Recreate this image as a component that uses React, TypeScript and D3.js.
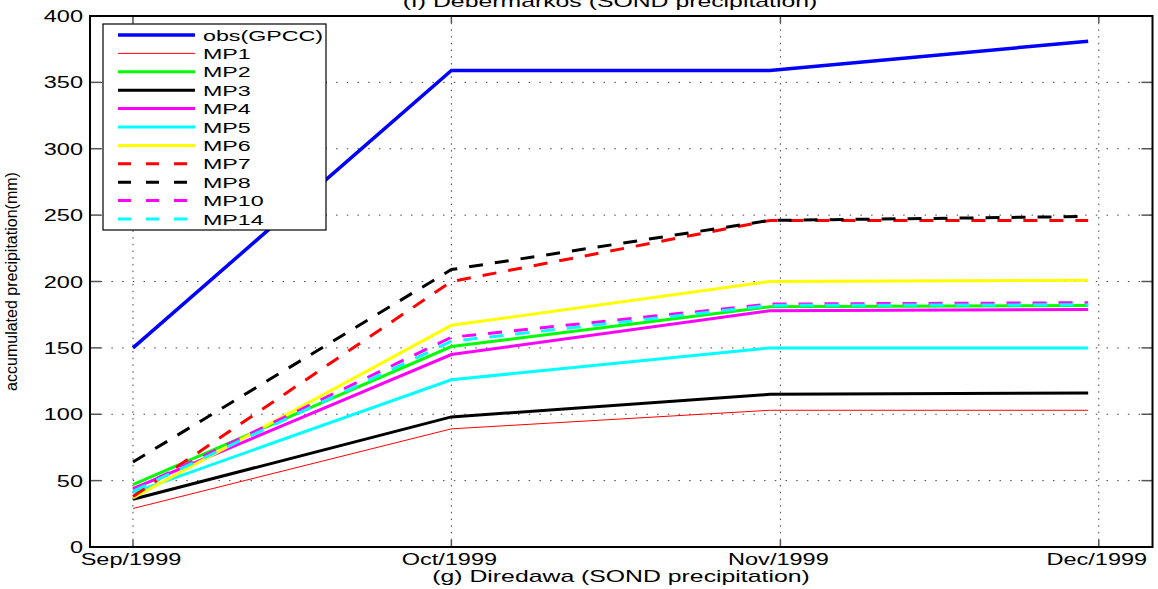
import React, { useEffect, useRef } from "react";
import * as d3 from "d3";

// months on the x axis (ticks at the first of each month)
const monthLabels = ["Sep/1999", "Oct/1999", "Nov/1999", "Dec/1999"];
const monthTickDates = ["1999-09-01", "1999-10-01", "1999-11-01", "1999-12-01"];
// dates where the accumulated values are sampled
const sampleDates = ["1999-09-01", "1999-10-01", "1999-10-31", "1999-11-30"];

const yTicks = [0, 50, 100, 150, 200, 250, 300, 350, 400];

const obsGPCC = [150, 359, 359, 381];
const mp1 = [29, 89, 103, 103];
const mp2 = [47, 151, 181, 182];
const mp3 = [36, 98, 115, 116];
const mp4 = [44, 145, 178, 179];
const mp5 = [41, 126, 150, 150];
const mp6 = [37, 167, 200, 201];
const mp7 = [38, 200, 246, 246];
const mp8 = [64, 209, 246, 249];
const mp10 = [43, 158, 183, 184];
const mp14 = [42, 155, 182, 182.5];

const seriesNames = ["obs(GPCC)", "MP1", "MP2", "MP3", "MP4", "MP5", "MP6", "MP7", "MP8", "MP10", "MP14"];
const seriesValues = [obsGPCC, mp1, mp2, mp3, mp4, mp5, mp6, mp7, mp8, mp10, mp14];
const seriesColors = ["#0000ff", "#ff0000", "#00ff00", "#000000", "#ff00ff", "#00ffff", "#ffff00", "#ff0000", "#000000", "#ff00ff", "#00ffff"];
const seriesDashed = [false, false, false, false, false, false, false, true, true, true, true];
const seriesWidths = [3.5, 1, 3, 3, 3, 3, 3, 3, 3, 3, 3];

const FONT = "'Liberation Sans', Arial, Helvetica, sans-serif";

export default function App() {
  const svgRef = useRef<SVGSVGElement>(null);

  useEffect(() => {
    const svg = d3.select(svgRef.current);
    svg.selectAll("*").remove();

    const left = 90, right = 1152.5, top = 16, bottom = 547;
    const day = 24 * 3600 * 1000;
    const t0 = new Date(monthTickDates[0] + "T00:00:00Z").getTime();
    const t1 = new Date(monthTickDates[3] + "T00:00:00Z").getTime();

    const x = d3
      .scaleUtc()
      .domain([new Date(t0 - 4.05 * day), new Date(t1 + 5.06 * day)])
      .range([left, right]);
    const y = d3.scaleLinear().domain([0, 400]).range([bottom, top]);

    const tickDates = monthTickDates.map((d) => new Date(d + "T00:00:00Z"));
    const dates = sampleDates.map((d) => new Date(d + "T00:00:00Z"));

    // text is drawn wide, like the stretched original figure
    const stretched = (g, tx, ty, txt, size, anchor, sx = 1.55) =>
      g
        .append("text")
        .attr("transform", `translate(${tx},${ty}) scale(${sx},1)`)
        .attr("text-anchor", anchor)
        .style("font-family", FONT)
        .style("font-size", size + "px")
        .attr("fill", "#000")
        .text(txt);

    // grid
    const grid = svg.append("g");
    yTicks.forEach((v) => {
      grid
        .append("line")
        .attr("x1", left)
        .attr("x2", right)
        .attr("y1", y(v))
        .attr("y2", y(v))
        .attr("stroke", "#444")
        .attr("stroke-width", 1)
        .attr("stroke-dasharray", "1.5,9.2");
    });
    tickDates.forEach((d) => {
      grid
        .append("line")
        .attr("x1", x(d))
        .attr("x2", x(d))
        .attr("y1", top)
        .attr("y2", bottom)
        .attr("stroke", "#444")
        .attr("stroke-width", 1)
        .attr("stroke-dasharray", "1.5,5.2");
    });

    // ticks
    const ticks = svg.append("g").attr("stroke", "#555").attr("stroke-width", 1.5);
    yTicks.forEach((v) => {
      ticks.append("line").attr("x1", left).attr("x2", left + 11).attr("y1", y(v)).attr("y2", y(v));
      ticks.append("line").attr("x1", right - 11).attr("x2", right).attr("y1", y(v)).attr("y2", y(v));
    });
    tickDates.forEach((d) => {
      ticks.append("line").attr("x1", x(d)).attr("x2", x(d)).attr("y1", bottom).attr("y2", bottom - 7);
      ticks.append("line").attr("x1", x(d)).attr("x2", x(d)).attr("y1", top).attr("y2", top + 7);
    });

    // lines
    const line = d3
      .line<number>()
      .x((_, i) => x(dates[i]))
      .y((v) => y(v));
    const lines = svg.append("g");
    seriesValues.forEach((vals, i) => {
      lines
        .append("path")
        .attr("d", line(vals))
        .attr("fill", "none")
        .attr("stroke", seriesColors[i])
        .attr("stroke-width", seriesWidths[i])
        .attr("stroke-dasharray", seriesDashed[i] ? "14,12" : null);
    });

    // axes box
    svg
      .append("rect")
      .attr("x", left)
      .attr("y", top)
      .attr("width", right - left)
      .attr("height", bottom - top)
      .attr("fill", "none")
      .attr("stroke", "#000")
      .attr("stroke-width", 2);

    // tick labels
    const labels = svg.append("g");
    yTicks.forEach((v) => {
      stretched(labels, 83, y(v) + 6, String(v), 16, "end", 1.47);
    });
    tickDates.forEach((d, i) => {
      stretched(labels, x(d) - 2, 565, monthLabels[i], 16, "middle", 1.47);
    });

    // titles
    stretched(svg, 610, 7, "(f) Debermarkos (SOND precipitation)", 16, "middle");
    stretched(svg, 621, 582, "(g) Diredawa (SOND precipitation)", 16, "middle");

    svg
      .append("text")
      .attr("transform", `translate(17,${(top + bottom) / 2}) rotate(-90)`)
      .attr("text-anchor", "middle")
      .style("font-family", FONT)
      .style("font-size", "16px")
      .text("accumulated precipitation(mm)");

    // legend
    const legend = svg.append("g");
    legend
      .append("rect")
      .attr("x", 103)
      .attr("y", 24)
      .attr("width", 223)
      .attr("height", 206)
      .attr("fill", "#fff")
      .attr("stroke", "#000")
      .attr("stroke-width", 1.2);
    seriesNames.forEach((name, i) => {
      const ly = 35 + i * 18.4;
      legend
        .append("line")
        .attr("x1", 118)
        .attr("x2", 195)
        .attr("y1", ly)
        .attr("y2", ly)
        .attr("stroke", seriesColors[i])
        .attr("stroke-width", seriesWidths[i])
        .attr("stroke-dasharray", seriesDashed[i] ? "13,15" : null);
      stretched(legend, 203, ly + 5.5, name, 15, "start");
    });
  }, []);

  return (
    <div style={{ position: "absolute", left: 0, top: 0 }}>
      <svg ref={svgRef} width={1158} height={589} style={{ display: "block", background: "#fff" }} />
    </div>
  );
}
